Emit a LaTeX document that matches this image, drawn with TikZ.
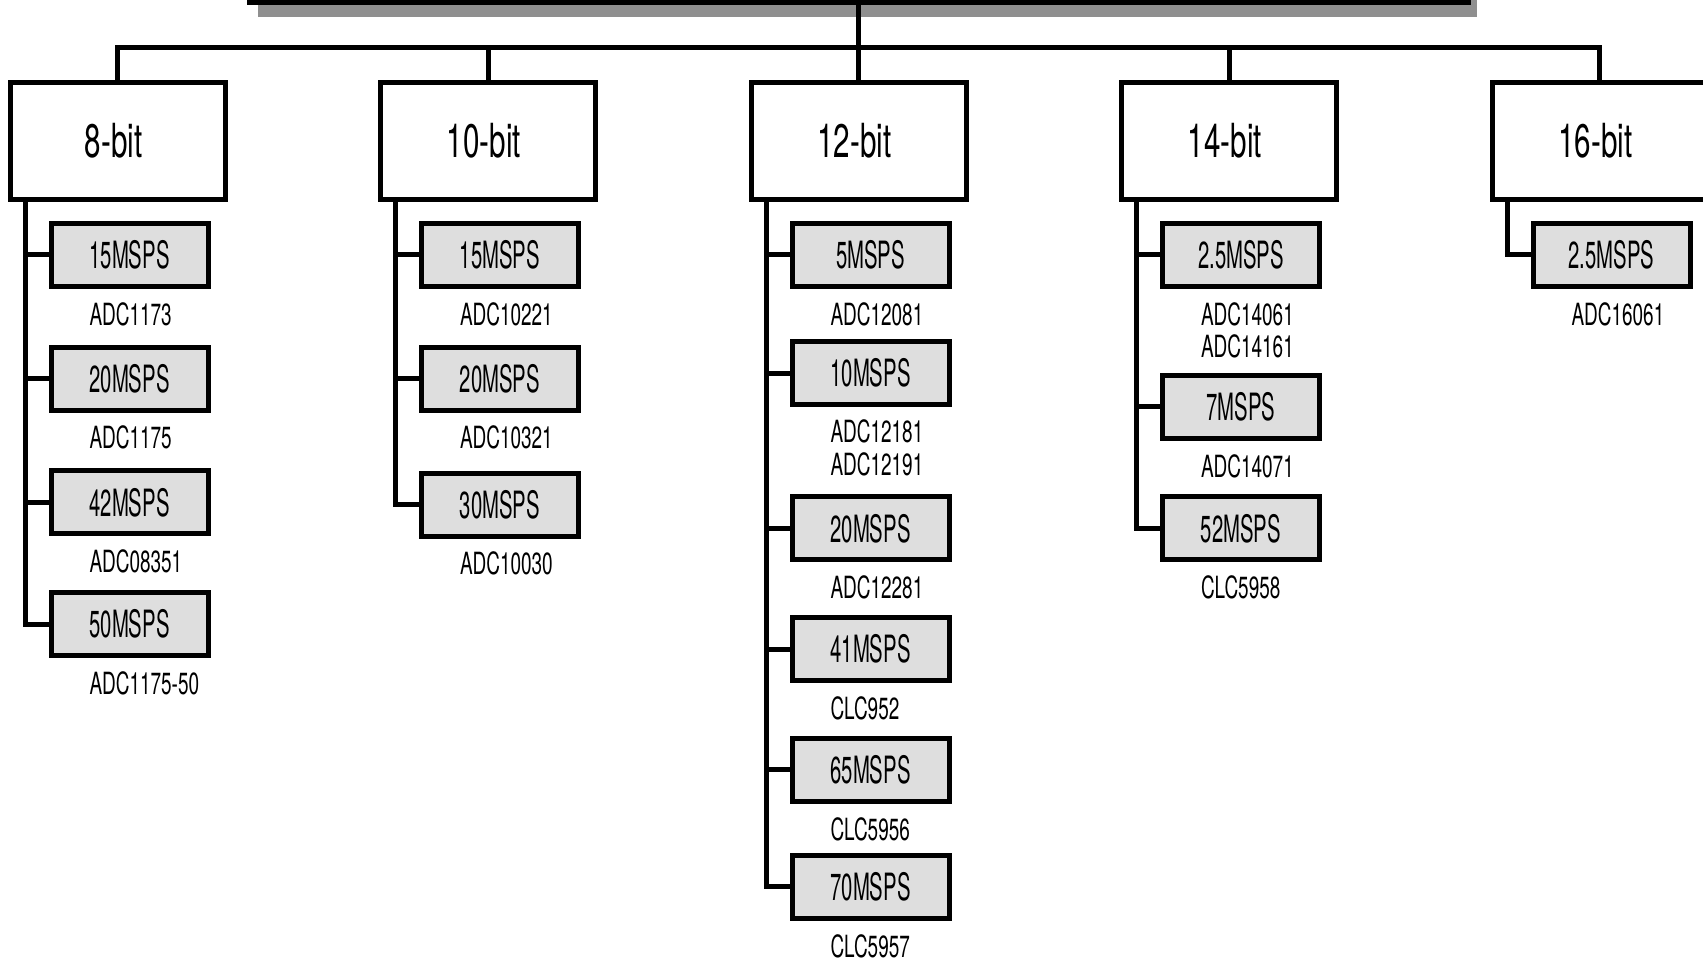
\documentclass[tikz,border=0pt]{standalone}
\usepackage{fontspec}
\setmainfont{TeX Gyre Heros}
\newfontfamily\bitfont[FakeStretch=0.63]{TeX Gyre Heros}
\newfontfamily\spsfont[FakeStretch=0.54]{TeX Gyre Heros}
\newfontfamily\partfont[FakeStretch=0.62]{TeX Gyre Heros}
\usetikzlibrary{shadows}
\definecolor{subfill}{RGB}{222,222,222}
\definecolor{shadowgray}{RGB}{143,143,143}
\begin{document}
\begin{tikzpicture}[x=1pt,y=-1pt,line width=5pt,
  wire/.style={line width=5pt,line join=miter},
  rootbox/.style={draw,rectangle,fill=white,inner sep=0pt,minimum width=1219pt,minimum height=102.5pt,
    drop shadow={shadow xshift=9pt,shadow yshift=-14pt,fill=shadowgray,opacity=1}},
  bitbox/.style={draw,rectangle,fill=white,inner sep=0pt,minimum width=215pt,minimum height=117pt,
    font=\bitfont\fontsize{47}{50}\selectfont,execute at begin node=\hspace*{-8pt}},
  spsbox/.style={draw,rectangle,fill=subfill,inner sep=0pt,minimum width=157pt,minimum height=63pt,
    font=\spsfont\fontsize{37.6}{40}\selectfont},
  part/.style={anchor=west,inner sep=0pt,align=left,font=\partfont\fontsize{30.6}{32.6}\selectfont}]
\useasboundingbox (0,0) rectangle (1703,961);
\clip (0,0) rectangle (1703,961);

% root box (cut off at the top)
\node[rootbox] (root) at (858.5,-48.75) {};

% level 1
\node[bitbox] (b8)  at (117.5,141) {8-bit};
\node[bitbox] (b10) at (488,141)   {10-bit};
\node[bitbox] (b12) at (858.5,141) {12-bit};
\node[bitbox] (b14) at (1229,141)  {14-bit};
\node[bitbox] (b16) at (1599.5,141) {16-bit};

\coordinate (bus) at (858.5,47);
\draw[wire] (b8.north) |- (b16.north |- bus) -- (b16.north);
\draw[wire] (b10.north) -- (b10.north |- bus);
\draw[wire] (b14.north) -- (b14.north |- bus);
\draw[wire] (root.south) -- (b12.north);

% 8-bit column
\node[spsbox] (s8a) at (129.5,254.7) {15MSPS};
\node[spsbox] (s8b) at (129.5,378.5) {20MSPS};
\node[spsbox] (s8c) at (129.5,502.3) {42MSPS};
\node[spsbox] (s8d) at (129.5,624)   {50MSPS};
\node[part] (l8a) at (87,313.9) {ADC1173};
\node[part] (l8b) at (87,437.7) {ADC1175};
\node[part] (l8c) at (87,561.5) {ADC08351};
\node[part] (l8d) at (87,683.2) {ADC1175-50};
\foreach \s in {s8a,s8b,s8c,s8d}
  \draw[wire] ([xshift=17.5pt]b8.south west) |- (\s.west);

% 10-bit column
\node[spsbox] (s10a) at (500,254.7) {15MSPS};
\node[spsbox] (s10b) at (500,378.5) {20MSPS};
\node[spsbox] (s10c) at (500,504.5) {30MSPS};
\node[part] (l10a) at (457.5,313.9) {ADC10221};
\node[part] (l10b) at (457.5,437.7) {ADC10321};
\node[part] (l10c) at (457.5,563.7) {ADC10030};
\foreach \s in {s10a,s10b,s10c}
  \draw[wire] ([xshift=17.5pt]b10.south west) |- (\s.west);

% 12-bit column
\node[spsbox] (s12a) at (870.5,254.7) {5MSPS};
\node[spsbox] (s12b) at (870.5,373.1) {10MSPS};
\node[spsbox] (s12c) at (870.5,528.4) {20MSPS};
\node[spsbox] (s12d) at (870.5,649)   {41MSPS};
\node[spsbox] (s12e) at (870.5,769.5) {65MSPS};
\node[spsbox] (s12f) at (870.5,886.8) {70MSPS};
\node[part] (l12a) at (828,313.9) {ADC12081};
\node[part] (l12b) at (828,448)   {ADC12181\\ADC12191};
\node[part] (l12c) at (828,587.6) {ADC12281};
\node[part] (l12d) at (828,708.1) {CLC952};
\node[part] (l12e) at (828,829.8) {CLC5956};
\node[part] (l12f) at (828,946)   {CLC5957};
\foreach \s in {s12a,s12b,s12c,s12d,s12e,s12f}
  \draw[wire] ([xshift=17.5pt]b12.south west) |- (\s.west);

% 14-bit column
\node[spsbox] (s14a) at (1241,254.7) {2.5MSPS};
\node[spsbox] (s14b) at (1241,406.7) {7MSPS};
\node[spsbox] (s14c) at (1241,528.4) {52MSPS};
\node[part] (l14a) at (1198.5,330.2) {ADC14061\\ADC14161};
\node[part] (l14b) at (1198.5,466)   {ADC14071};
\node[part] (l14c) at (1198.5,587.6) {CLC5958};
\foreach \s in {s14a,s14b,s14c}
  \draw[wire] ([xshift=17.5pt]b14.south west) |- (\s.west);

% 16-bit column
\node[spsbox] (s16a) at (1611.5,254.7) {2.5MSPS};
\node[part] (l16a) at (1569,313.9) {ADC16061};
\draw[wire] ([xshift=17.5pt]b16.south west) |- (s16a.west);
\end{tikzpicture}
\end{document}
